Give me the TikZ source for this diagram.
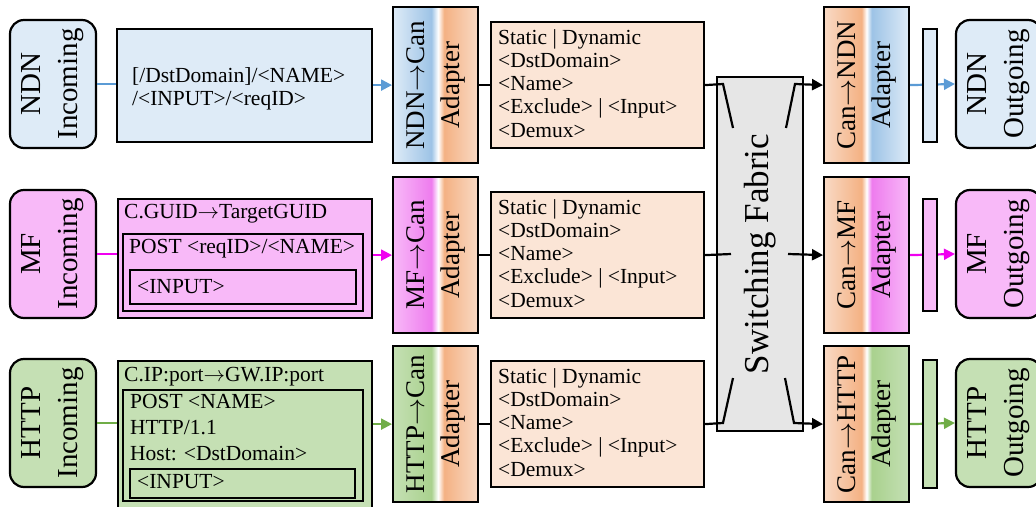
\RequirePackage{fix-cm}
\documentclass[tikz,border=0pt]{standalone}
\usepackage{fontspec}
\setmainfont{Liberation Serif}
\usetikzlibrary{arrows.meta}

% palette
\definecolor{ndnFill}{HTML}{DEEBF7}
\definecolor{ndnDark}{HTML}{9DC3E6}
\definecolor{ndnLine}{HTML}{5B9BD5}
\definecolor{mfFill}{HTML}{F8B9F8}
\definecolor{mfDark}{HTML}{EE7CEE}
\definecolor{mfLine}{HTML}{F000F0}
\definecolor{httpFill}{HTML}{C5E0B4}
\definecolor{httpDark}{HTML}{A9D18E}
\definecolor{httpLine}{HTML}{70AD47}
\definecolor{canFill}{HTML}{FBE5D6}
\definecolor{canDark}{HTML}{F4B183}
\definecolor{canLight}{HTML}{F9DAC5}
\definecolor{fabricFill}{HTML}{E6E6E6}

% adapter fills: protocol colour | white seam | canonical colour
\pgfdeclarehorizontalshading{ndnToCan}{100bp}{color(0bp)=(ndnFill); color(25bp)=(ndnFill); color(47.5bp)=(ndnDark); color(51.5bp)=(white); color(55bp)=(canDark); color(75bp)=(canLight); color(100bp)=(canLight)}
\pgfdeclarehorizontalshading{mfToCan}{100bp}{color(0bp)=(mfFill); color(25bp)=(mfFill); color(47.5bp)=(mfDark); color(51.5bp)=(white); color(55bp)=(canDark); color(75bp)=(canLight); color(100bp)=(canLight)}
\pgfdeclarehorizontalshading{httpToCan}{100bp}{color(0bp)=(httpFill); color(25bp)=(httpFill); color(47.5bp)=(httpDark); color(51.5bp)=(white); color(55bp)=(canDark); color(75bp)=(canLight); color(100bp)=(canLight)}
\pgfdeclarehorizontalshading{canToNdn}{100bp}{color(0bp)=(canLight); color(25bp)=(canLight); color(47bp)=(canDark); color(50bp)=(white); color(53bp)=(ndnDark); color(75bp)=(ndnFill); color(100bp)=(ndnFill)}
\pgfdeclarehorizontalshading{canToMf}{100bp}{color(0bp)=(canLight); color(25bp)=(canLight); color(47bp)=(canDark); color(50bp)=(white); color(53bp)=(mfDark); color(75bp)=(mfFill); color(100bp)=(mfFill)}
\pgfdeclarehorizontalshading{canToHttp}{100bp}{color(0bp)=(canLight); color(25bp)=(canLight); color(47bp)=(canDark); color(50bp)=(white); color(53bp)=(httpDark); color(75bp)=(httpFill); color(100bp)=(httpFill)}

\newcommand\pktfont{\fontsize{21.5}{23.3}\selectfont}
\newcommand\lblfont{\fontsize{29}{37}\selectfont}
\newcommand\adpfont{\fontsize{27}{35}\selectfont}
\newcommand\fabfont{\fontsize{35}{40}\selectfont}

\begin{document}
\begin{tikzpicture}[x=1pt,y=-1pt,
  bx/.style={draw, line width=2.2pt, inner sep=0pt},
  term/.style={bx, rounded corners=14pt, minimum width=86pt, minimum height=128pt},
  pkt/.style={bx, anchor=north west},
  adp/.style={bx, shade, anchor=north west, minimum width=85pt, minimum height=156pt},
  canon/.style={bx, anchor=north west, fill=canFill, minimum width=213pt, minimum height=126pt},
  stub/.style={bx, anchor=north west, minimum width=14pt},
  txt/.style={anchor=base west, inner sep=0pt, font=\pktfont},
  rlab/.style={rotate=90, align=center, inner sep=0pt, font=\lblfont},
  alab/.style={rlab, font=\adpfont},
  wire/.style={line width=2.2pt},
  arrowed/.style={-{Triangle[length=11pt,width=11pt]}}]

\useasboundingbox (0,0) rectangle (1036,506);
\clip (0,0) rectangle (1036,506);

% ---------- incoming and outgoing endpoints
\node[term, fill=ndnFill]  (ndnIn)   at (53,84)  {};
\node[term, fill=mfFill]   (mfIn)    at (53,254) {};
\node[term, fill=httpFill] (httpIn)  at (53,423) {};
\node[term, fill=ndnFill]  (ndnOut)  at (999,84)  {};
\node[term, fill=mfFill]   (mfOut)   at (999,254) {};
\node[term, fill=httpFill] (httpOut) at (999,423) {};
\node[rlab] (ndnInT)   at (ndnIn.center)   {NDN\\Incoming};
\node[rlab] (mfInT)    at (mfIn.center)    {MF\\Incoming};
\node[rlab] (httpInT)  at (httpIn.center)  {HTTP\\Incoming};
\node[rlab] (ndnOutT)  at (ndnOut.center)  {NDN\\Outgoing};
\node[rlab] (mfOutT)   at (mfOut.center)   {MF\\Outgoing};
\node[rlab] (httpOutT) at (httpOut.center) {HTTP\\Outgoing};

% ---------- native packet formats
\node[pkt, fill=ndnFill, minimum width=255pt, minimum height=113pt] (ndnPkt) at (116,28) {};
\node[txt] (ndnPktA) at (132,82)  {[/DstDomain]/<NAME>};
\node[txt] (ndnPktB) at (132,105.3) {/<INPUT>/<reqID>};

\node[pkt, fill=mfFill, minimum width=254pt, minimum height=119pt] (mfPkt) at (117,198) {};
\node[txt] (mfPktA) at (124,218.3) {C.GUID$\rightarrow$TargetGUID};
\node[pkt, fill=mfFill, minimum width=240pt, minimum height=77pt] (mfPktIn) at (122,233) {};
\node[txt] (mfPktB) at (129,253.3) {POST <reqID>/<NAME>};
\node[pkt, fill=mfFill, minimum width=226pt, minimum height=34pt] (mfPktIn2) at (129,269) {};
\node[txt] (mfPktC) at (137,293) {<INPUT>};

\node[pkt, fill=httpFill, minimum width=254pt, minimum height=160pt] (httpPkt) at (117,360) {};
\node[txt] (httpPktA) at (124,381) {C.IP:port$\rightarrow$GW.IP:port};
\node[pkt, fill=httpFill, minimum width=240pt, minimum height=111pt] (httpPktIn) at (122,389) {};
\node[txt] (httpPktB) at (130,408) {POST <NAME>};
\node[txt] (httpPktC) at (130,434) {HTTP/1.1};
\node[txt] (httpPktD) at (130,460) {Host: <DstDomain>};
\node[pkt, fill=httpFill, minimum width=225pt, minimum height=29pt] (httpPktIn2) at (129,468) {};
\node[txt] (httpPktE) at (137,488) {<INPUT>};

% ---------- ingress adapters
\node[adp, shading=ndnToCan]  (ndnAd)  at (392,6)   {};
\node[adp, shading=mfToCan]   (mfAd)   at (392,176) {};
\node[adp, shading=httpToCan] (httpAd) at (392,345) {};
\node[alab] (ndnAdT)  at (ndnAd.center)  {NDN$\rightarrow$Can\\Adapter};
\node[alab] (mfAdT)   at (mfAd.center)   {MF$\rightarrow$Can\\Adapter};
\node[alab] (httpAdT) at (httpAd.center) {HTTP$\rightarrow$Can\\Adapter};

% ---------- canonical packet descriptions
\node[canon] (can1) at (490,21)  {};
\node[canon] (can2) at (490,191) {};
\node[canon] (can3) at (490,360) {};
\foreach \r/\b in {1/44,2/214,3/383}{
  \foreach \t [count=\i] in {Static | Dynamic,<DstDomain>,<Name>,<Exclude> | <Input>,<Demux>}
    \node[txt] (can\r-\i) at (498,{\b+23.3*(\i-1)}) {\t};
}

% ---------- switching fabric
\node[bx, anchor=north west, fill=fabricFill, minimum width=86pt, minimum height=354pt] (fabric) at (716,76) {};
\node[rlab, font=\fabfont] (fabricT) at (fabric.center) {Switching Fabric};

% ---------- egress adapters
\node[adp, shading=canToNdn]  (ndnOutAd)  at (823,6)   {};
\node[adp, shading=canToMf]   (mfOutAd)   at (823,176) {};
\node[adp, shading=canToHttp] (httpOutAd) at (823,345) {};
\node[alab] (ndnOutAdT)  at (ndnOutAd.center)  {Can$\rightarrow$NDN\\Adapter};
\node[alab] (mfOutAdT)   at (mfOutAd.center)   {Can$\rightarrow$MF\\Adapter};
\node[alab] (httpOutAdT) at (httpOutAd.center) {Can$\rightarrow$HTTP\\Adapter};

% ---------- ingress wiring
\draw[wire, draw=ndnLine] (ndnIn.east) -- (ndnPkt.west |- ndnIn.east);
\draw[wire, draw=ndnLine, arrowed] (ndnPkt.east |- ndnAd.west) -- (ndnAd.west);
\draw[wire, draw=mfLine] (mfIn.east) -- (mfPkt.west |- mfIn.east);
\draw[wire, draw=mfLine, arrowed] (mfPkt.east |- mfAd.west) -- (mfAd.west);
\draw[wire, draw=httpLine] (httpIn.east) -- (httpPkt.west |- httpIn.east);
\draw[wire, draw=httpLine, arrowed] (httpPkt.east |- httpAd.west) -- (httpAd.west);
\draw[wire] (ndnAd.east) -- (can1.west);
\draw[wire] (mfAd.east) -- (can2.west);
\draw[wire] (httpAd.east) -- (can3.west);

% ---------- paths through the fabric
\coordinate (f1a) at (723,84);  \coordinate (f1b) at (733,128);
\coordinate (f1c) at (786,128); \coordinate (f1d) at (795,84);
\coordinate (f2a) at (731,254); \coordinate (f2b) at (788,254);
\coordinate (f3a) at (723,423); \coordinate (f3b) at (733,378);
\coordinate (f3c) at (785,378); \coordinate (f3d) at (794,423);
\draw[wire] (can1.east) -- (f1a) -- (f1b);
\draw[wire, arrowed] (f1c) -- (f1d) -- (ndnOutAd.west);
\draw[wire] (can2.east) -- (f2a);
\draw[wire, arrowed] (f2b) -- (mfOutAd.west);
\draw[wire] (can3.east) -- (f3a) -- (f3b);
\draw[wire, arrowed] (f3c) -- (f3d) -- (httpOutAd.west);

% ---------- egress wiring, queues on top
\draw[wire, draw=ndnLine, arrowed] (ndnOutAd.east) -- (ndnOut.west);
\draw[wire, draw=mfLine, arrowed] (mfOutAd.east) -- (mfOut.west);
\draw[wire, draw=httpLine, arrowed] (httpOutAd.east) -- (httpOut.west);
\node[stub, fill=ndnFill, minimum height=113pt]  (ndnBar)  at (922,28)  {};
\node[stub, fill=mfFill, minimum height=112pt]   (mfBar)   at (922,198) {};
\node[stub, fill=httpFill, minimum height=128pt] (httpBar) at (922,359) {};
\end{tikzpicture}
\end{document}
